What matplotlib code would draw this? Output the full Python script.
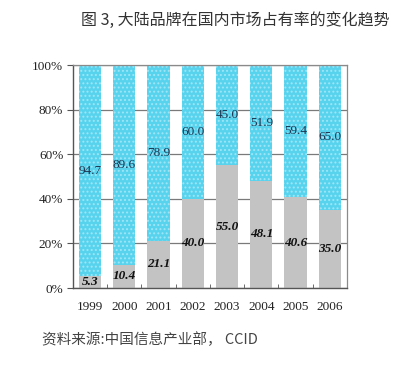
import matplotlib
matplotlib.use("Agg")
import matplotlib.pyplot as plt
import numpy as np

years = ["1999", "2000", "2001", "2002", "2003", "2004", "2005", "2006"]
domestic = [5.3, 10.4, 21.1, 40.0, 55.0, 48.1, 40.6, 35.0]
foreign = [94.7, 89.6, 78.9, 60.0, 45.0, 51.9, 59.4, 65.0]
yticks = [0, 20, 40, 60, 80, 100]
ytick_labels = ["0%", "20%", "40%", "60%", "80%", "100%"]
title = "图 3, 大陆品牌在国内市场占有率的变化趋势"
source = "资料来源:中国信息产业部， CCID"

plt.rcParams['hatch.linewidth'] = 0.9
fig = plt.figure(figsize=(4.18, 3.69), dpi=100)
ax = fig.add_axes([0.1746, 0.2195, 0.6555, 0.6043])

x = np.arange(len(years))
w = 0.65
ax.bar(x, domestic, width=w, color="#c3c3c3", linewidth=0, zorder=2)
ax.bar(x, foreign, width=w, bottom=domestic, color="#58d3ee", edgecolor="#9fe6f6",
       hatch="....", linewidth=0, zorder=2)

serif = ["Liberation Serif", "DejaVu Serif"]
for xi, d, f in zip(x, domestic, foreign):
    ax.text(xi, d / 2, f"{d:.1f}", ha="center", va="center", fontsize=9.5,
            fontweight="bold", fontstyle="italic", family=serif, color="#111111", zorder=3)
    ax.text(xi, d + f / 2, f"{f:.1f}", ha="center", va="center", fontsize=9.5,
            family=serif, color="#1c3550", zorder=3)

ax.set_xlim(-0.5, len(years) - 0.5)
ax.set_ylim(0, 100)
ax.set_yticks(yticks)
ax.set_yticklabels(ytick_labels, family=serif, fontsize=9.5, color="#222222")
ax.set_xticks(x)
ax.set_xticklabels(years, family=serif, fontsize=9.5, color="#222222")
ax.tick_params(axis="x", length=0, pad=9)
ax.set_xticks(np.arange(len(years) + 1) - 0.5, minor=True)
ax.tick_params(axis="x", which="minor", direction="in", length=3, color="#555555")
ax.tick_params(axis="y", direction="out", length=4, color="#555555", pad=3)
ax.yaxis.grid(True, color="#7a7a7a", linewidth=0.9, zorder=1)
ax.set_axisbelow(True)
for s in ["left", "bottom"]:
    ax.spines[s].set_color("#555555")
    ax.spines[s].set_linewidth(1.0)
for s in ["right", "top"]:
    ax.spines[s].set_color("#8a8a8a")
    ax.spines[s].set_linewidth(0.9)

cjk = ["Noto Sans CJK SC", "DejaVu Sans"]
fig.text(235 / 418, 1 - 20 / 369, title, ha="center", va="center", fontsize=11.5,
         family=cjk, color="#333333")
fig.text(42 / 418, 1 - 340 / 369, source, ha="left", va="center", fontsize=10.5,
         family=cjk, color="#444444")

fig.savefig("out.png", dpi=100)
